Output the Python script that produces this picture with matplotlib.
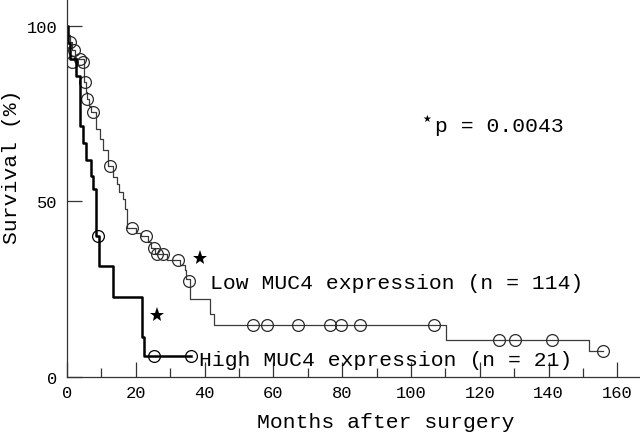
import numpy as np
import matplotlib
matplotlib.use("Agg")
import matplotlib.pyplot as plt
from matplotlib.ticker import MultipleLocator

plt.rcParams['font.family'] = ['Liberation Mono', 'DejaVu Sans']

# Low MUC4 expression (n = 114): step times and survival after each step
low_t = [0, 0.4, 0.8, 1.5, 2.2, 4.8, 5.0, 5.6, 5.9, 6.5, 7.0, 8.5, 9.7, 10.5, 11.8,
         13.5, 14.5, 15.2, 16.2, 16.9, 17.5, 20.0, 21.5, 23.5, 24.3, 25.5, 29.0,
         32.8, 34.3, 34.6, 35.8, 41.6, 42.8, 110.1, 151.8, 155.7]
low_s = [100, 97.4, 95.4, 93.0, 90.4, 86.0, 84.1, 81.0, 79.2, 77.0, 75.3, 70.6, 67.8, 64.5, 60.0,
         57.0, 55.0, 52.7, 50.7, 47.9, 42.4, 41.0, 40.0, 38.5, 36.7, 35.1, 33.3,
         32.0, 30.5, 27.8, 22.2, 18.0, 14.9, 10.5, 7.5, 7.5]
low_cens_t = [0.9, 2.0, 1.4, 3.8, 4.6, 5.2, 5.9, 7.5, 12.5, 19.0, 22.9, 25.3, 26.1, 28.0,
              32.2, 35.4, 54.0, 58.2, 67.2, 76.4, 79.7, 85.3, 106.7, 125.6, 130.4, 141.0, 155.7]
low_cens_s = [95.3, 93.0, 89.6, 90.4, 89.8, 84.1, 79.2, 75.3, 60.0, 42.4, 40.0, 36.7, 35.0, 35.1,
              33.3, 27.4, 14.9, 14.9, 14.9, 14.9, 14.9, 14.9, 14.9, 10.5, 10.5, 10.5, 7.5]

# High MUC4 expression (n = 21)
high_t = [0, 0.3, 1.0, 2.5, 3.8, 4.7, 5.5, 7.1, 7.6, 8.4, 9.4, 13.5, 21.7, 22.4, 36.0]
high_s = [100, 95.2, 90.5, 85.7, 71.4, 66.7, 61.9, 57.1, 53.6, 40.2, 31.6, 22.8, 11.4, 6.1, 6.1]
high_cens_t = [9.0, 25.3, 36.0]
high_cens_s = [40.2, 6.1, 6.1]

# star markers (significance)
star_x = [26.2, 38.7]
star_y = [17.7, 33.9]

fig = plt.figure(figsize=(6.4, 4.35), dpi=100)
ax = fig.add_axes([67 / 640, 57 / 435, 1 - 67 / 640, 1 - 57 / 435])

ax.step(low_t, low_s, where='post', color='#3a3a3a', lw=0.9)
ax.plot(low_cens_t, low_cens_s, 'o', ms=8.5, mfc='none', mec='#2a2a2a', mew=0.9)
ax.step(high_t, high_s, where='post', color='black', lw=1.8)
ax.plot(high_cens_t, high_cens_s, 'o', ms=8.5, mfc='none', mec='black', mew=0.9)
ax.plot(star_x, star_y, '*', ms=11, color='black', mew=0)

ax.text(41.6, 27.0, 'Low MUC4 expression (n = 114)', fontsize=15.4, va='center', ha='left')
ax.text(38.5, 5.1, 'High MUC4 expression (n = 21)', fontsize=15.4, va='center', ha='left')
ax.text(104.6, 73.6, '\u2605', fontsize=7, family='DejaVu Sans', va='center', ha='center')
ax.text(107.0, 71.5, 'p = 0.0043', fontsize=15.4, va='center', ha='left')

ax.set_xlim(0, 166.6)
ax.set_ylim(0, 107.6)
ax.xaxis.set_major_locator(MultipleLocator(20))
ax.xaxis.set_minor_locator(MultipleLocator(10))
ax.set_yticks([0, 50, 100])

ax.spines['top'].set_visible(False)
ax.spines['right'].set_visible(False)
for s in ('left', 'bottom'):
    ax.spines[s].set_linewidth(0.9)
    ax.spines[s].set_color('#333333')

ax.tick_params(axis='both', which='major', direction='in', length=11, width=0.9,
               labelsize=12.3, color='#333333')
ax.tick_params(axis='x', which='minor', direction='in', length=6.5, width=0.9, color='#333333')
ax.tick_params(axis='x', which='major', pad=6)
ax.tick_params(axis='y', which='major', pad=7)

ax.set_xlabel('Months after surgery', fontsize=15.4)
ax.xaxis.set_label_coords(0.556, -0.119)
ax.xaxis.label.set_va('center')
ax.set_ylabel('Survival (%)', fontsize=15.4)
ax.yaxis.set_label_coords(-0.097, 0.558)
ax.yaxis.label.set_va('center')
ax.yaxis.label.set_rotation_mode('anchor')

fig.savefig('out.png', dpi=100)
